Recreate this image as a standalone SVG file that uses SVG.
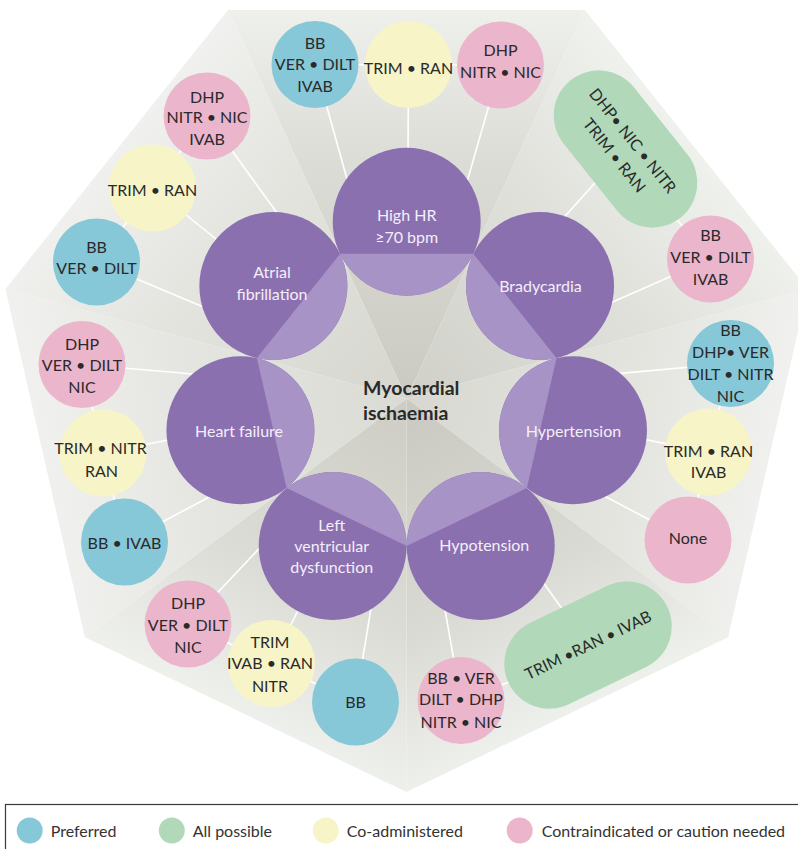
<svg xmlns="http://www.w3.org/2000/svg" width="798" height="849" viewBox="0 0 798 849">
<style>
.bg{stroke:none}
.pd{fill:#8b70b0}
.pl{fill:#a793c5}
.pt{font-family:Lato,"Noto Sans",sans-serif;font-size:16px;fill:#f4eef9;text-anchor:middle}
.ot{font-family:Lato,"Noto Sans",sans-serif;font-size:16px;fill:#2a2a2a;text-anchor:middle}
.ct{font-family:Lato,"Noto Sans",sans-serif;font-size:19.5px;font-weight:bold;fill:#2a2a2a}
.lt{font-family:Lato,"Noto Sans",sans-serif;font-size:16px;fill:#333333}
.blue{fill:#86c7d8}
.green{fill:#b1d9b9}
.yellow{fill:#f7f5c8}
.pink{fill:#ebb5cc}
.con line{stroke:#ffffff;stroke-width:1.6}
</style>
<defs>
<linearGradient id="f0" gradientUnits="userSpaceOnUse" x1="406.6" y1="398.5" x2="406.5" y2="10"><stop offset="0" stop-color="#cacac2"/><stop offset="0.6" stop-color="#dcdcd6"/><stop offset="1" stop-color="#eef0ec"/></linearGradient>
<linearGradient id="f1" gradientUnits="userSpaceOnUse" x1="406.6" y1="398.5" x2="696.3" y2="149.6"><stop offset="0" stop-color="#d0d0c9"/><stop offset="0.6" stop-color="#e0e1db"/><stop offset="1" stop-color="#eff1ed"/></linearGradient>
<linearGradient id="f2" gradientUnits="userSpaceOnUse" x1="406.6" y1="398.5" x2="767.9" y2="463.2"><stop offset="0" stop-color="#d8d8d1"/><stop offset="0.6" stop-color="#e3e4de"/><stop offset="1" stop-color="#f0f1ee"/></linearGradient>
<linearGradient id="f3" gradientUnits="userSpaceOnUse" x1="406.6" y1="398.5" x2="567.3" y2="714.7"><stop offset="0" stop-color="#c9c9c1"/><stop offset="0.6" stop-color="#dadad4"/><stop offset="1" stop-color="#eef0ec"/></linearGradient>
<linearGradient id="f4" gradientUnits="userSpaceOnUse" x1="406.6" y1="398.5" x2="245.7" y2="714.7"><stop offset="0" stop-color="#cdcdc5"/><stop offset="0.6" stop-color="#dcdcd6"/><stop offset="1" stop-color="#eef0ec"/></linearGradient>
<linearGradient id="f5" gradientUnits="userSpaceOnUse" x1="406.6" y1="398.5" x2="45.2" y2="463.2"><stop offset="0" stop-color="#dadbd4"/><stop offset="0.6" stop-color="#e5e6e1"/><stop offset="1" stop-color="#f0f1ee"/></linearGradient>
<linearGradient id="f6" gradientUnits="userSpaceOnUse" x1="406.6" y1="398.5" x2="116.8" y2="149.6"><stop offset="0" stop-color="#d6d6cf"/><stop offset="0.6" stop-color="#e3e4de"/><stop offset="1" stop-color="#f0f1ee"/></linearGradient>
</defs>
<rect width="798" height="849" fill="#ffffff"/>
<g id="background">
<polygon class="bg" fill="url(#f0)" points="406.6,398.5 228.1,10 584.9,10"/>
<polygon class="bg" fill="url(#f1)" points="406.6,398.5 584.9,10 807.6,289.1"/>
<polygon class="bg" fill="url(#f2)" points="406.6,398.5 807.6,289.1 728.1,637.2"/>
<polygon class="bg" fill="url(#f3)" points="406.6,398.5 728.1,637.2 406.5,792.1"/>
<polygon class="bg" fill="url(#f4)" points="406.6,398.5 406.5,792.1 84.9,637.2"/>
<polygon class="bg" fill="url(#f5)" points="406.6,398.5 84.9,637.2 5.4,289.1"/>
<polygon class="bg" fill="url(#f6)" points="406.6,398.5 5.4,289.1 228.1,10"/>
</g>
<g id="connectors" class="con">
<line x1="352.8" y1="199.7" x2="315" y2="64.5"/>
<line x1="407.8" y1="192.3" x2="408.5" y2="64.5"/>
<line x1="461.8" y1="200.1" x2="500.5" y2="65"/>
<line x1="315" y1="64.5" x2="500.5" y2="65"/>
<line x1="540.4" y1="243.6" x2="625.5" y2="149"/>
<line x1="589.8" y1="312" x2="710.5" y2="259"/>
<line x1="660" y1="200" x2="710.5" y2="259"/>
<line x1="605.9" y1="374.6" x2="730.5" y2="363.5"/>
<line x1="602.9" y1="431.1" x2="708.5" y2="452"/>
<line x1="583.8" y1="485.3" x2="688" y2="540"/>
<line x1="730.5" y1="363.5" x2="708.5" y2="452"/>
<line x1="708.5" y1="452" x2="688" y2="540"/>
<line x1="523.3" y1="554.8" x2="588" y2="645"/>
<line x1="441.4" y1="589.3" x2="461" y2="700.5"/>
<line x1="461" y1="700.5" x2="540" y2="670"/>
<line x1="269.4" y1="537.7" x2="188" y2="624"/>
<line x1="317.5" y1="571.3" x2="271.5" y2="663.5"/>
<line x1="374.1" y1="589.6" x2="355.5" y2="702"/>
<line x1="188" y1="624" x2="271.5" y2="663.5"/>
<line x1="271.5" y1="663.5" x2="355.5" y2="702"/>
<line x1="207.4" y1="375.2" x2="82" y2="364.5"/>
<line x1="210.6" y1="431.5" x2="103" y2="453"/>
<line x1="230" y1="486" x2="124.5" y2="542"/>
<line x1="82" y1="364.5" x2="103" y2="453"/>
<line x1="103" y1="453" x2="124.5" y2="542"/>
<line x1="289.5" y1="230.2" x2="207" y2="116"/>
<line x1="250.8" y1="267" x2="152.5" y2="188"/>
<line x1="222.3" y1="314.9" x2="96.5" y2="262"/>
<line x1="207" y1="116" x2="152.5" y2="188"/>
<line x1="152.5" y1="188" x2="96.5" y2="262"/>
</g>
<g id="high-hr">
<circle class="pd" cx="406.7" cy="221.75" r="74"/>
<path class="pl" d="M340.03,253.86 A74,74 0 0 0 473.37,253.86 Z"/>
<text class="pt" x="406.7" y="220.5">High HR</text>
<text class="pt" x="406.7" y="243">≥70 bpm</text>
</g>
<g id="bradycardia">
<circle class="pd" cx="540.04" cy="285.96" r="74"/>
<path class="pl" d="M473.37,253.86 A74,74 0 0 0 556.51,358.11 Z"/>
<text class="pt" x="540.5" y="292.3">Bradycardia</text>
</g>
<g id="hypertension">
<circle class="pd" cx="572.97" cy="430.25" r="74"/>
<path class="pl" d="M556.51,358.11 A74,74 0 0 0 526.84,488.11 Z"/>
<text class="pt" x="573.5" y="437.3">Hypertension</text>
</g>
<g id="hypotension">
<circle class="pd" cx="480.7" cy="545.96" r="74"/>
<path class="pl" d="M526.84,488.11 A74,74 0 0 0 406.7,545.96 Z"/>
<text class="pt" x="484.3" y="550.7">Hypotension</text>
</g>
<g id="lv-dysfunction">
<circle class="pd" cx="332.7" cy="545.96" r="74"/>
<path class="pl" d="M406.7,545.96 A74,74 0 0 0 286.56,488.11 Z"/>
<text class="pt" x="331.7" y="530.7">Left</text>
<text class="pt" x="331.7" y="551.7">ventricular</text>
<text class="pt" x="331.7" y="573">dysfunction</text>
</g>
<g id="heart-failure">
<circle class="pd" cx="240.43" cy="430.25" r="74"/>
<path class="pl" d="M286.56,488.11 A74,74 0 0 0 256.89,358.11 Z"/>
<text class="pt" x="239" y="437.3">Heart failure</text>
</g>
<g id="atrial-fibrillation">
<circle class="pd" cx="273.36" cy="285.96" r="74"/>
<path class="pl" d="M256.89,358.11 A74,74 0 0 0 340.03,253.86 Z"/>
<text class="pt" x="272" y="278.2">Atrial</text>
<text class="pt" x="272" y="299.7">fibrillation</text>
</g>
<g id="center-label">
<text class="ct" x="363" y="395">Myocardial</text>
<text class="ct" x="363" y="420">ischaemia</text>
</g>
<g id="hhr-preferred">
<circle class="blue" cx="315" cy="64.5" r="43.5"/>
<text class="ot" x="315" y="48.5">BB</text>
<text class="ot" x="315" y="69.8">VER • DILT</text>
<text class="ot" x="315" y="91.8">IVAB</text>
</g>
<g id="hhr-coadministered">
<circle class="yellow" cx="408.5" cy="64.5" r="43.5"/>
<text class="ot" x="408.5" y="73.6">TRIM • RAN</text>
</g>
<g id="hhr-contraindicated">
<circle class="pink" cx="500.5" cy="65" r="43.5"/>
<text class="ot" x="500.5" y="55.8">DHP</text>
<text class="ot" x="500.5" y="77.5">NITR • NIC</text>
</g>
<g id="brady-allpossible" transform="translate(625.5,149) rotate(51.43)">
<rect class="green" x="-88" y="-45" width="176" height="90" rx="45"/>
<text class="ot" x="-2" y="-5.2">DHP• NIC • NITR</text>
<text class="ot" x="-2" y="18.3">TRIM • RAN</text>
</g>
<g id="brady-contraindicated">
<circle class="pink" cx="710.5" cy="259" r="43.5"/>
<text class="ot" x="710.5" y="240.8">BB</text>
<text class="ot" x="710.5" y="263.1">VER • DILT</text>
<text class="ot" x="710.5" y="285.1">IVAB</text>
</g>
<g id="ht-preferred">
<circle class="blue" cx="730.5" cy="363.5" r="43.5"/>
<text class="ot" x="730.5" y="335.8">BB</text>
<text class="ot" x="730.5" y="357.5">DHP• VER</text>
<text class="ot" x="730.5" y="379.8">DILT • NITR</text>
<text class="ot" x="730.5" y="401.8">NIC</text>
</g>
<g id="ht-coadministered">
<circle class="yellow" cx="708.5" cy="452" r="43.5"/>
<text class="ot" x="708.5" y="456.5">TRIM • RAN</text>
<text class="ot" x="708.5" y="478.1">IVAB</text>
</g>
<g id="ht-contraindicated">
<circle class="pink" cx="688" cy="540" r="43.5"/>
<text class="ot" x="688" y="544.1">None</text>
</g>
<g id="hypo-allpossible" transform="translate(588,645) rotate(-25.71)">
<rect class="green" x="-88" y="-45" width="176" height="90" rx="45"/>
<text class="ot" x="0" y="5.8">TRIM •RAN • IVAB</text>
</g>
<g id="hypo-contraindicated">
<circle class="pink" cx="461" cy="700.5" r="43.5"/>
<text class="ot" x="461" y="684.1">BB • VER</text>
<text class="ot" x="461" y="705.1">DILT • DHP</text>
<text class="ot" x="461" y="727.5">NITR • NIC</text>
</g>
<g id="lv-contraindicated">
<circle class="pink" cx="188" cy="624" r="43.5"/>
<text class="ot" x="188" y="609.1">DHP</text>
<text class="ot" x="188" y="630.8">VER • DILT</text>
<text class="ot" x="188" y="653.1">NIC</text>
</g>
<g id="lv-coadministered">
<circle class="yellow" cx="271.5" cy="663.5" r="43.5"/>
<text class="ot" x="270" y="647.5">TRIM</text>
<text class="ot" x="270" y="669.1">IVAB • RAN</text>
<text class="ot" x="270" y="691.5">NITR</text>
</g>
<g id="lv-preferred">
<circle class="blue" cx="355.5" cy="702" r="43.5"/>
<text class="ot" x="355.5" y="708.1">BB</text>
</g>
<g id="hf-contraindicated">
<circle class="pink" cx="82" cy="364.5" r="43.5"/>
<text class="ot" x="82" y="349.8">DHP</text>
<text class="ot" x="82" y="370.8">VER • DILT</text>
<text class="ot" x="82" y="393.1">NIC</text>
</g>
<g id="hf-coadministered">
<circle class="yellow" cx="103" cy="453" r="43.5"/>
<text class="ot" x="100.5" y="454.1">TRIM • NITR</text>
<text class="ot" x="101.5" y="476.5">RAN</text>
</g>
<g id="hf-preferred">
<circle class="blue" cx="124.5" cy="542" r="43.5"/>
<text class="ot" x="124.5" y="549.1">BB • IVAB</text>
</g>
<g id="af-contraindicated">
<circle class="pink" cx="207" cy="116" r="43.5"/>
<text class="ot" x="207" y="102.5">DHP</text>
<text class="ot" x="207" y="123.1">NITR • NIC</text>
<text class="ot" x="207" y="145.1">IVAB</text>
</g>
<g id="af-coadministered">
<circle class="yellow" cx="152.5" cy="188" r="43.5"/>
<text class="ot" x="152.5" y="195.8">TRIM • RAN</text>
</g>
<g id="af-preferred">
<circle class="blue" cx="96.5" cy="262" r="43.5"/>
<text class="ot" x="96.5" y="252.5">BB</text>
<text class="ot" x="96.5" y="274.1">VER • DILT</text>
</g>
<g id="legend">
<rect x="5.5" y="804.5" width="800" height="60" fill="none" stroke="#3a3a3a" stroke-width="1.2"/>
<circle class="blue" cx="29.7" cy="830.5" r="13"/>
<text class="lt" x="50.7" y="836.5">Preferred</text>
<circle class="green" cx="171.8" cy="830.5" r="13"/>
<text class="lt" x="192.7" y="836.5">All possible</text>
<circle class="yellow" cx="325.8" cy="830.5" r="13"/>
<text class="lt" x="346.7" y="836.5">Co-administered</text>
<circle class="pink" cx="519.7" cy="830.5" r="13"/>
<text class="lt" x="541.7" y="836.5">Contraindicated or caution needed</text>
</g>
</svg>
